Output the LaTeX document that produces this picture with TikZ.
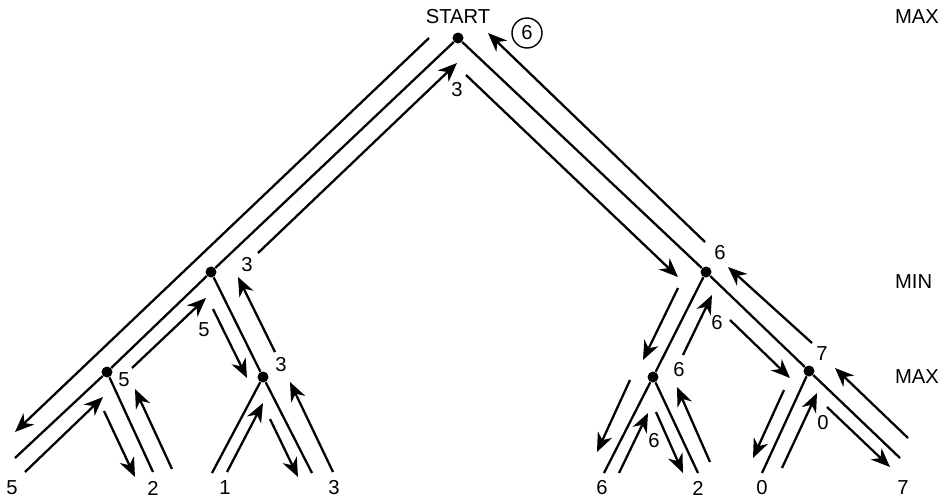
\documentclass[tikz,border=0pt]{standalone}
\usepackage{fontspec}
\setmainfont{Liberation Sans}
\usetikzlibrary{arrows.meta}

\tikzset{
  treeline/.style={line width=1.3pt},
  pass/.style={line width=1.3pt, -{Stealth[length=3.8mm,width=3.1mm,inset=1.2mm]}},
  dot/.style={circle, fill=black, inner sep=0pt, minimum size=2.2mm},
  val/.style={font=\fontsize{11.5}{14}\selectfont, inner sep=1pt},
  level/.style={val, anchor=west}
}

\begin{document}
\begin{tikzpicture}[x=0.2mm, y=-0.2mm]
  \useasboundingbox (0,0) rectangle (942,501);

  % tree nodes
  \node[dot] (root) at (458,38) {};
  \node[dot] (minL) at (211,272) {};
  \node[dot] (minR) at (706,272) {};
  \node[dot] (maxLL) at (107,372) {};
  \node[dot] (maxLR) at (263,377) {};
  \node[dot] (maxRL) at (653,377) {};
  \node[dot] (maxRR) at (809,371) {};
  \coordinate (leafA) at (15,458);
  \coordinate (leafB) at (153,472);
  \coordinate (leafC) at (212,473);
  \coordinate (leafD) at (312,473);
  \coordinate (leafE) at (604,473);
  \coordinate (leafF) at (698,473);
  \coordinate (leafG) at (762,473);
  \coordinate (leafH) at (900,458);

  % tree edges
  \draw[treeline] (leafA) -- (maxLL) -- (minL) -- (root) -- (minR) -- (maxRR) -- (leafH);
  \draw[treeline] (minL) -- (maxLR) -- (leafD);
  \draw[treeline] (minR) -- (maxRL) -- (leafE);
  \draw[treeline] (maxLL) -- (leafB);
  \draw[treeline] (maxLR) -- (leafC);
  \draw[treeline] (maxRL) -- (leafF);
  \draw[treeline] (maxRR) -- (leafG);

  % labels
  \node[val] (start) at (458,17) {START};
  \node[val, circle, draw, line width=0.8pt, minimum size=6mm] (best) at (527,33) {6};
  \node[val] (vRoot) at (457,90) {3};
  \node[val] (vMinL) at (247,265) {3};
  \node[val] (vMaxLL) at (124,380) {5};
  \node[val] (vCutL) at (204,330) {5};
  \node[val] (vMaxLR) at (281,365) {3};
  \node[val] (vMinR) at (720,253) {6};
  \node[val] (vCutR) at (717,323) {6};
  \node[val] (vMaxRL) at (679,370) {6};
  \node[val] (vMaxRR) at (822,354) {7};
  \node[val] (vCutRL) at (654,441) {6};
  \node[val] (vCutRR) at (823,423) {0};
  \node[val] (tA) at (12,488) {5};
  \node[val] (tB) at (153,488) {2};
  \node[val] (tC) at (225,488) {1};
  \node[val] (tD) at (334,488) {3};
  \node[val] (tE) at (602,488) {6};
  \node[val] (tF) at (698,488) {2};
  \node[val] (tG) at (762,488) {0};
  \node[val] (tH) at (903,488) {7};
  \node[level] (lvMax) at (893,17) {MAX};
  \node[level] (lvMin) at (893,282) {MIN};
  \node[level] (lvMax2) at (893,377) {MAX};

  % search passes, left half
  \draw[pass] (429,38) -- (15,432);
  \draw[pass] (258,253) -- (457,63);
  \draw[pass] (25,472) -- (103,397);
  \draw[pass] (132,368) -- (206,298);
  \draw[pass] (213,309) -- (247,378);
  \draw[pass] (275,352) -- (238,277);
  \draw[pass] (104,411) -- (135,477);
  \draw[pass] (172,469) -- (135,389);
  \draw[pass] (227,472) -- (263,403);
  \draw[pass] (270,419) -- (298,477);
  \draw[pass] (333,472) -- (290,382);

  % search passes, right half
  \draw[pass] (466,75) -- (678,277);
  \draw[pass] (705,242) -- (488,33);
  \draw[pass] (678,288) -- (643,360);
  \draw[pass] (683,355) -- (712,295);
  \draw[pass] (630,380) -- (597,452);
  \draw[pass] (619,473) -- (648,413);
  \draw[pass] (656,412) -- (683,473);
  \draw[pass] (710,462) -- (677,387);
  \draw[pass] (730,320) -- (790,378);
  \draw[pass] (812,343) -- (728,267);
  \draw[pass] (784,390) -- (753,458);
  \draw[pass] (782,468) -- (817,393);
  \draw[pass] (827,407) -- (890,467);
  \draw[pass] (908,438) -- (835,368);
\end{tikzpicture}
\end{document}
